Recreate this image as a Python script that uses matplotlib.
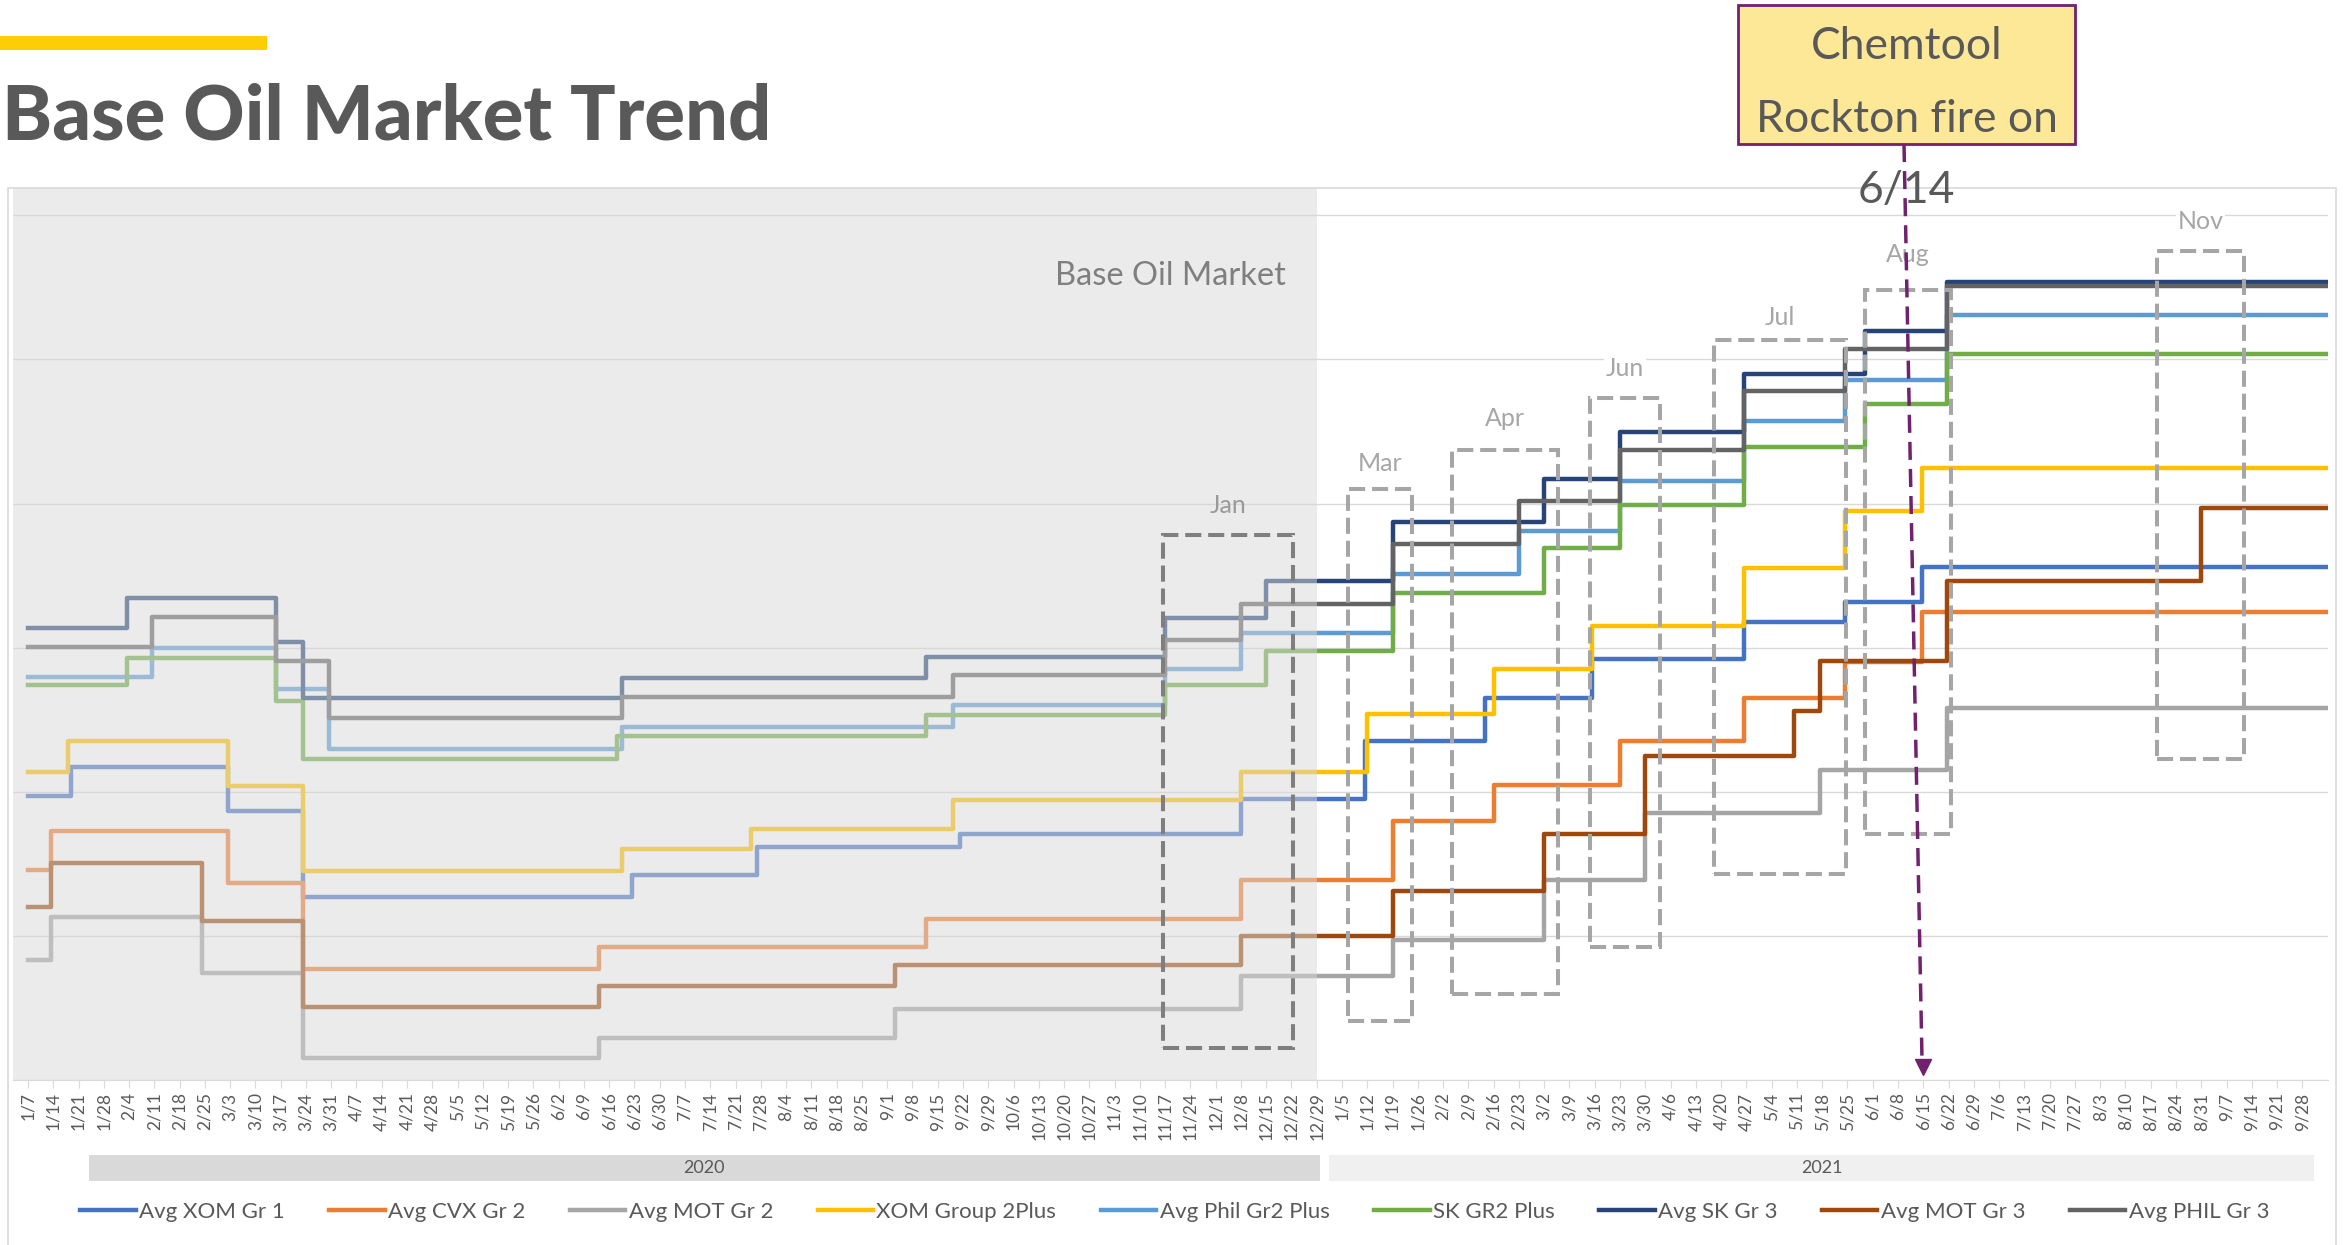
import matplotlib
matplotlib.use('Agg')
import matplotlib.pyplot as plt
from matplotlib.lines import Line2D
from matplotlib.patches import Rectangle
import pandas as pd

plt.rcParams['font.family'] = ['Lato', 'DejaVu Sans']

# weekly categories on the x axis
weeks_2020 = pd.date_range('2020-01-07', '2020-12-29', freq='7D')
weeks_2021 = pd.date_range('2021-01-05', '2021-09-28', freq='7D')
week_labels = [f'{d.month}/{d.day}' for d in list(weeks_2020) + list(weeks_2021)]
n_2020 = len(weeks_2020)
end_week = len(week_labels)

# price steps: week index where a new price starts, and the price (index units, axis hidden)
xom_gr1_at = [0, 1.7, 7.9, 10.9, 23.9, 28.85, 36.9, 48, 52.9, 57.65, 61.9, 67.9, 71.9, 74.95]
xom_gr1 = [1.97, 2.17, 1.87, 1.27, 1.42, 1.62, 1.71, 1.95, 2.35, 2.65, 2.92, 3.18, 3.32, 3.56]

cvx_gr2_at = [0, 0.9, 7.9, 10.9, 22.6, 35.55, 48, 54, 58, 63, 67.9, 71.9, 74.95]
cvx_gr2 = [1.46, 1.73, 1.37, 0.77, 0.92, 1.12, 1.39, 1.80, 2.05, 2.35, 2.65, 2.90, 3.25]

mot_gr2_at = [0, 0.9, 6.9, 10.9, 22.6, 34.3, 48, 54, 60, 64, 70.9, 75.95]
mot_gr2 = [0.83, 1.13, 0.74, 0.15, 0.29, 0.49, 0.72, 0.97, 1.39, 1.85, 2.15, 2.58]

xom_g2plus_at = [0, 1.6, 7.9, 10.9, 23.5, 28.6, 36.6, 48, 53, 58, 61.9, 67.9, 71.9, 74.95]
xom_g2plus = [2.14, 2.35, 2.04, 1.45, 1.60, 1.74, 1.94, 2.14, 2.54, 2.85, 3.15, 3.55, 3.95, 4.25]

phil_g2plus_at = [0, 4.9, 9.8, 11.9, 23.5, 36.6, 45, 48, 54, 59, 63, 67.9, 71.9, 75.95]
phil_g2plus = [2.80, 3.00, 2.71, 2.30, 2.45, 2.60, 2.85, 3.10, 3.51, 3.81, 4.16, 4.57, 4.86, 5.31]

sk_g2plus_at = [0, 3.9, 9.8, 10.9, 23.3, 35.55, 45, 49, 54, 60, 63, 67.9, 72.7, 75.95]
sk_g2plus = [2.74, 2.93, 2.63, 2.23, 2.385, 2.53, 2.74, 2.975, 3.38, 3.69, 3.99, 4.39, 4.69, 5.04]

sk_gr3_at = [0, 3.9, 9.8, 10.9, 23.5, 35.55, 45, 49, 54, 60, 63, 67.9, 72.7, 75.95]
sk_gr3 = [3.14, 3.345, 3.04, 2.65, 2.79, 2.935, 3.206, 3.46, 3.87, 4.17, 4.50, 4.90, 5.20, 5.54]

mot_gr3_at = [0, 0.9, 6.9, 10.9, 22.6, 34.3, 48, 54, 60, 64, 69.9, 70.9, 75.95, 86]
mot_gr3 = [1.20, 1.505, 1.10, 0.51, 0.65, 0.80, 1.00, 1.31, 1.71, 2.25, 2.56, 2.91, 3.46, 3.97]

phil_gr3_at = [0, 4.9, 9.8, 11.9, 23.5, 36.6, 45, 48, 54, 59, 63, 67.9, 71.9, 75.95]
phil_gr3 = [3.005, 3.21, 2.905, 2.51, 2.66, 2.81, 3.056, 3.305, 3.72, 4.02, 4.37, 4.78, 5.07, 5.51]

series_names = ['Avg XOM Gr 1', 'Avg CVX Gr 2', 'Avg MOT Gr 2', 'XOM Group 2Plus',
                'Avg Phil Gr2 Plus', 'SK GR2 Plus', 'Avg SK Gr 3', 'Avg MOT Gr 3', 'Avg PHIL Gr 3']
series_at = [xom_gr1_at, cvx_gr2_at, mot_gr2_at, xom_g2plus_at, phil_g2plus_at,
             sk_g2plus_at, sk_gr3_at, mot_gr3_at, phil_gr3_at]
series_vals = [xom_gr1, cvx_gr2, mot_gr2, xom_g2plus, phil_g2plus,
               sk_g2plus, sk_gr3, mot_gr3, phil_gr3]
colors = ['#4472C4', '#ED7D31', '#A5A5A5', '#FFC000', '#5B9BD5',
          '#70AD47', '#264478', '#9E480E', '#636363']

# month call-out boxes: label, x from/to (week index), y from/to, label height
month_boxes = [('Jan', 44.9, 50.05, 0.22, 3.78, 3.99), ('Mar', 52.25, 54.75, 0.41, 4.10, 4.28),
               ('Apr', 56.35, 60.55, 0.60, 4.375, 4.59), ('Jun', 61.8, 64.6, 0.92, 4.73, 4.94),
               ('Jul', 66.7, 71.95, 1.43, 5.135, 5.29), ('Aug', 72.7, 76.1, 1.71, 5.48, 5.73),
               ('Nov', 84.25, 87.7, 2.23, 5.75, 5.96)]

W, H = 2351, 1245
fig = plt.figure(figsize=(W / 100, H / 100), dpi=100)


def fx(px):
    return px / W


def fy(py):
    return 1 - py / H


ax = fig.add_axes([fx(12.8), fy(1080), fx(2327.6 - 12.8), (1080 - 188) / H])
ax.set_xlim(-0.6, end_week)
ax.set_ylim(0, 6.19)

for name, at, vals, col in zip(series_names, series_at, series_vals, colors):
    ax.plot(at + [end_week], vals + [vals[-1]], drawstyle='steps-post',
            color=col, lw=3.2, label=name, zorder=3)

# grey wash over 2020
ax.axvspan(-0.6, n_2020 - 1, color='#d8d8d8', alpha=0.51, lw=0, zorder=4)

ax.set_yticks(range(0, 7))
ax.yaxis.grid(True, color='#d9d9d9', lw=1.0, zorder=0)
ax.set_axisbelow(True)
ax.tick_params(axis='y', length=0, labelleft=False)
for s in ['left', 'right', 'top']:
    ax.spines[s].set_visible(False)
ax.spines['bottom'].set_color('#d9d9d9')
ax.set_xticks(range(len(week_labels)))
ax.set_xticklabels(week_labels, rotation=90, fontsize=12.5, color='#595959')
ax.tick_params(axis='x', length=6, color='#d9d9d9', pad=3)

# month boxes
for lab, x0, x1, y0, y1, ly in month_boxes:
    is_jan = lab == 'Jan'
    ax.add_patch(Rectangle((x0, y0), x1 - x0, y1 - y0, fill=False,
                           edgecolor='#7f7f7f' if is_jan else '#a6a6a6', lw=2.9,
                           linestyle=(0, (4, 1.7)), zorder=6))
    ax.text((x0 + x1) / 2, ly, lab, ha='center', va='center', fontsize=18,
            color='#999999' if is_jan else '#a6a6a6', zorder=7,
            bbox=None if is_jan else dict(facecolor='white', edgecolor='none', pad=1))

ax.text(45.2, 5.58, 'Base Oil Market', ha='center', va='center',
        fontsize=23.5, color='#7f7f7f', zorder=7)

# chart frame
fig.add_artist(Line2D([fx(8), fx(8), fx(2336), fx(2336)], [0, fy(188), fy(188), 0],
                      color='#d9d9d9', lw=1.2))

# title and accent bar
fig.add_artist(Rectangle((0, fy(50)), fx(267), 14 / H, color='#FDCD06', lw=0))
fig.text(fx(2), fy(139), 'Base Oil Market Trend', fontsize=54.5, fontweight='black',
         color='#595959', va='baseline', ha='left')

# year bars
fig.add_artist(Rectangle((fx(88.5), fy(1181)), fx(1320 - 88.5), 26 / H, color='#d9d9d9', lw=0))
fig.add_artist(Rectangle((fx(1329), fy(1181)), fx(2314 - 1329), 26 / H, color='#f0f0f0', lw=0))
fig.text(fx((88.5 + 1320) / 2), fy(1168), '2020', ha='center', va='center', fontsize=13, color='#595959')
fig.text(fx((1329 + 2314) / 2), fy(1168), '2021', ha='center', va='center', fontsize=13, color='#595959')

# legend
fig.legend(loc='center', bbox_to_anchor=(0.4996, fy(1212)), ncol=9, frameon=False,
           fontsize=16, labelcolor='#595959', handlelength=2.5, handletextpad=0.15,
           columnspacing=2.0)

# Chemtool call-out
purple = '#70226e'
fig.add_artist(Rectangle((fx(1738), fy(144)), fx(337), 139 / H, facecolor='#fce896',
                         edgecolor=purple, lw=2))
fig.text(fx(1906.5), fy(59), 'Chemtool', ha='center', va='baseline', fontsize=32, color='#595959')
fig.text(fx(1906.5), fy(132), 'Rockton fire on', ha='center', va='baseline', fontsize=32, color='#595959')
fig.add_artist(Line2D([fx(1904), fx(1922)], [fy(144), fy(1059)], color=purple, lw=2.5,
                      linestyle=(0, (5.2, 2.6)), zorder=8))
fig.add_artist(Line2D([fx(1922.5)], [fy(1067)], marker='v', markersize=12, color=purple,
                      linestyle='none', zorder=8))
fig.text(fx(1906), fy(203), '6/14', ha='center', va='baseline', fontsize=32, color='#595959', zorder=9)

fig.savefig('out.png', dpi=100)
